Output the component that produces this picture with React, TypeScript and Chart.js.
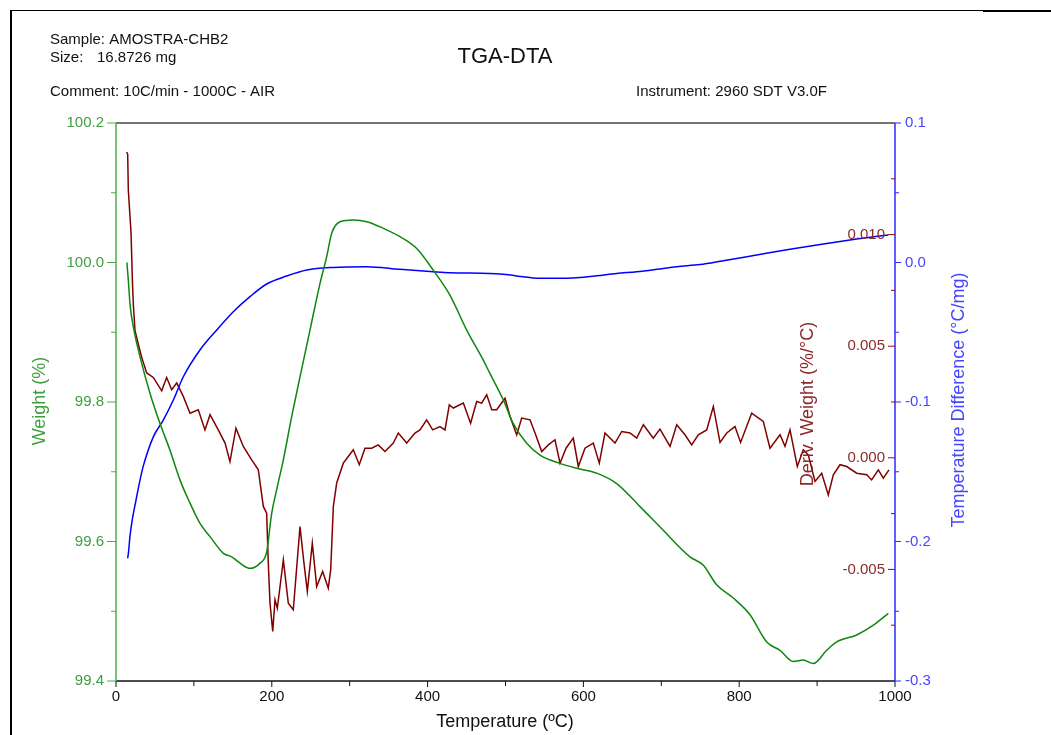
import React, { useEffect, useRef } from "react";
import { Chart, registerables } from "chart.js";

Chart.register(...registerables);

// ---------- data ----------
const weightTemp = [
  14, 15.8, 18, 22.2, 30.8, 43.6, 56.5, 69.3, 82.2, 95, 107.8, 120.7, 137.8, 148.5, 159.2, 172,
  184.9, 193.4, 199.8, 206.2, 214.8, 225.5, 236.2, 249, 261.9, 270.4, 276.9, 287.5, 304.6, 321.8,
  343.2, 364.6, 386, 407.3, 428.8, 450.2, 471.5, 480, 497.2, 510, 527.2, 544.3, 570, 591.4, 617,
  642.7, 672.7, 700, 736.8, 754, 771, 792.4, 813.9, 835.3, 852.4, 869.5, 882.3, 895.1, 912.3,
  925.2, 950.8, 972.2, 991.4,
];
const weightPct = [
  100.0, 99.975, 99.94, 99.908, 99.865, 99.8125, 99.769, 99.731, 99.688, 99.655, 99.626, 99.607,
  99.583, 99.578, 99.569, 99.5615, 99.569, 99.585, 99.64, 99.674, 99.717, 99.779, 99.836, 99.903,
  99.97, 100.008, 100.042, 100.0585, 100.061, 100.0585, 100.049, 100.037, 100.02, 99.989, 99.953,
  99.903, 99.86, 99.841, 99.803, 99.769, 99.741, 99.724, 99.712, 99.705, 99.698, 99.683, 99.65,
  99.619, 99.578, 99.566, 99.538, 99.519, 99.495, 99.456, 99.444, 99.428, 99.43, 99.425, 99.444,
  99.456, 99.466, 99.48, 99.497,
];

const dtaTemp = [
  15, 16, 18, 21, 24.4, 30.8, 35, 47.9, 60.7, 73.6, 86.4, 107.8, 129.3, 150.6, 172, 193.4, 219,
  244.8, 279, 321.8, 364.6, 407.3, 428.8, 480, 497, 523, 540, 565.7, 591.4, 617, 642.7, 668.4, 694,
  719.8, 749.7, 779.6, 822.4, 865.2, 908, 950.8, 991.4,
];
const dtaValue = [
  -0.212, -0.208, -0.196, -0.184, -0.174, -0.156, -0.146, -0.125, -0.113, -0.0986, -0.0819,
  -0.0627, -0.0484, -0.0353, -0.0245, -0.0154, -0.0097, -0.0054, -0.0035, -0.003, -0.0049,
  -0.0066, -0.0073, -0.0078, -0.0085, -0.0102, -0.0113, -0.0113, -0.0109, -0.0095, -0.0078,
  -0.0066, -0.0049, -0.003, -0.0015, 0.0013, 0.0054, 0.0095, 0.0133, 0.0168, 0.0197,
];

const derivTemp = [
  13.7, 15, 15.8, 18, 19.3, 21, 22.2, 24.4, 28.6, 33, 39.4, 47.9, 58.7, 65, 71.5, 77.9, 86.4, 95,
  105.6, 114.2, 120.7, 131.3, 140, 146.3, 154, 163.4, 174.2, 182.7, 189.1, 193.4, 195.5, 197.7,
  201.2, 204.1, 207.1, 214.8, 221.2, 227.6, 236.2, 241.3, 245.6, 252, 257.6, 265.3, 272.5, 275.6,
  279, 283.3, 291.8, 298.2, 304.6, 312.3, 319.6, 328.2, 336.7, 345.3, 356, 362.4, 373.2, 383.8,
  390.2, 398.8, 406.5, 415.9, 422.3, 427.9, 433, 445.9, 455.2, 463, 469.4, 475.9, 482.3, 488.7,
  499.4, 505.8, 514.4, 520.8, 531.5, 537.9, 546.5, 555, 563.5, 570, 577.7, 587, 593.5, 602, 612.7,
  620.4, 627.7, 640.6, 649.2, 659.8, 668.4, 677, 689.7, 698.3, 711.2, 719.8, 730.4, 739, 747.5,
  758.3, 766.8, 775.4, 784, 794.6, 801.8, 816, 830.9, 839.5, 852.4, 858.8, 865.2, 874.6, 882.3,
  888.7, 897.3, 905.9, 914.4, 920.8, 929.4, 938, 950.8, 963.7, 970, 978.6, 985, 992.3,
];
const derivValue = [
  0.0137, 0.0136, 0.012, 0.0108, 0.0101, 0.008, 0.0069, 0.0057, 0.0051, 0.0045, 0.0038, 0.0036,
  0.003, 0.0036, 0.00305, 0.00335, 0.00275, 0.002, 0.00215, 0.00125, 0.00193, 0.00125, 0.00066,
  -0.00017, 0.00133, 0.00051, -0.00009, -0.00054, -0.00218, -0.00248, -0.00472, -0.00651,
  -0.00778, -0.00636, -0.00674, -0.00457, -0.00651, -0.00681, -0.00308, -0.00472, -0.00599,
  -0.00382, -0.00577, -0.00509, -0.00584, -0.00502, -0.00218, -0.00113, -0.00024, 0.00006,
  0.00036, -0.00031, 0.00043, 0.00043, 0.00058, 0.00028, 0.00066, 0.00111, 0.00066, 0.00111,
  0.00125, 0.0017, 0.00125, 0.0014, 0.00125, 0.00237, 0.00223, 0.00245, 0.00155, 0.00252,
  0.00245, 0.00282, 0.00215, 0.00215, 0.00267, 0.00185, 0.00103, 0.00178, 0.0017, 0.00111,
  0.00028, 0.00058, 0.00081, -0.00024, 0.00043, 0.00088, -0.00039, 0.00043, 0.00066, -0.00024,
  0.00111, 0.00066, 0.00118, 0.00111, 0.00088, 0.00148, 0.00088, 0.00129, 0.00051, 0.00148,
  0.00103, 0.00058, 0.00103, 0.00125, 0.0023, 0.00069, 0.00111, 0.0014, 0.00069, 0.002, 0.00163,
  0.00043, 0.00103, 0.00051, 0.00125, -0.00039, 0.00036, 0.00013, -0.00106, -0.00069, -0.00166,
  -0.00076, -0.00031, -0.00039, -0.00069, -0.00076, -0.00099, -0.00054, -0.00091, -0.00054,
];

// ---------- ticks ----------
const xMajorTicks = [0, 200, 400, 600, 800, 1000];
const xMinorTicks = [100, 300, 500, 700, 900];
const weightMajorTicks = [99.4, 99.6, 99.8, 100.0, 100.2];
const weightTickLabels = ["99.4", "99.6", "99.8", "100.0", "100.2"];
const weightMinorTicks = [99.5, 99.7, 99.9, 100.1];
const dtaMajorTicks = [-0.3, -0.2, -0.1, 0.0, 0.1];
const dtaTickLabels = ["-0.3", "-0.2", "-0.1", "0.0", "0.1"];
const dtaMinorTicks = [-0.25, -0.15, -0.05, 0.05];
const derivMajorTicks = [-0.005, 0.0, 0.005, 0.01];
const derivTickLabels = ["-0.005", "0.000", "0.005", "0.010"];
const derivMinorTicks = [-0.0075, -0.0025, 0.0025, 0.0075, 0.0125];

const FONT = "'Liberation Sans', Arial, Helvetica, sans-serif";
const GREEN_CURVE = "#0f870f";
const GREEN_TEXT = "#3f9f3f";
const GREEN_AXIS = "#4caf4c";
const BLUE_CURVE = "#0000ff";
const BLUE_TEXT = "#4646ff";
const BLUE_AXIS = "#2a2aff";
const RED_CURVE = "#800000";
const RED_TEXT = "#8c2a2a";
const RED_TICK = "#8b1010";

export default function App() {
  const ref = useRef<HTMLCanvasElement>(null);

  useEffect(() => {
    const canvas = ref.current;
    if (!canvas) return;
    const pts = (xs: number[], ys: number[]) => xs.map((x, i) => ({ x, y: ys[i] }));

    const text = (
      ctx: CanvasRenderingContext2D,
      s: string,
      x: number,
      y: number,
      size: number,
      color: string,
      align: CanvasTextAlign = "left",
      rotate = 0
    ) => {
      ctx.save();
      ctx.translate(x, y);
      if (rotate) ctx.rotate(rotate);
      ctx.font = `${size}px ${FONT}`;
      ctx.fillStyle = color;
      ctx.textAlign = align;
      ctx.textBaseline = "middle";
      ctx.fillText(s, 0, 0);
      ctx.restore();
    };
    const line = (
      ctx: CanvasRenderingContext2D,
      x1: number,
      y1: number,
      x2: number,
      y2: number,
      color: string,
      w = 1
    ) => {
      ctx.save();
      ctx.strokeStyle = color;
      ctx.lineWidth = w;
      ctx.beginPath();
      ctx.moveTo(x1, y1);
      ctx.lineTo(x2, y2);
      ctx.stroke();
      ctx.restore();
    };

    const decor = {
      id: "decor",
      beforeDraw(chart: any) {
        const ctx: CanvasRenderingContext2D = chart.ctx;
        ctx.save();
        ctx.fillStyle = "#ffffff";
        ctx.fillRect(0, 0, chart.width, chart.height);
        ctx.fillStyle = "#000000";
        ctx.fillRect(10, 10, 2, 725);
        ctx.fillRect(10, 10, 973, 1);
        ctx.fillRect(983, 10, 68, 2);
        ctx.restore();

        // header texts
        text(ctx, "Sample: AMOSTRA-CHB2", 50, 40, 15, "#111");
        text(ctx, "Size:", 50, 58, 15, "#111");
        text(ctx, "16.8726 mg", 97, 58, 15, "#111");
        text(ctx, "Comment: 10C/min - 1000C - AIR", 50, 92, 15, "#111");
        text(ctx, "Instrument: 2960 SDT V3.0F", 636, 92, 15, "#111");
        text(ctx, "TGA-DTA", 505, 57, 22, "#111", "center");
      },
      afterDatasetsDraw(chart: any) {
        const ctx: CanvasRenderingContext2D = chart.ctx;
        const a = chart.chartArea;
        const sx = chart.scales.x;
        const sw = chart.scales.yW;
        const st = chart.scales.yT;
        const sd = chart.scales.yD;

        // frame lines
        line(ctx, a.left, a.top, a.right, a.top, "#444", 1.5);
        line(ctx, a.left, a.bottom, a.right, a.bottom, "#111", 1.5);
        line(ctx, a.left, a.top, a.left, a.bottom, GREEN_AXIS, 1.5);
        line(ctx, a.right, a.top, a.right, a.bottom, BLUE_AXIS, 1.5);

        // x axis
        xMajorTicks.forEach((v) => {
          const px = sx.getPixelForValue(v);
          line(ctx, px, a.bottom, px, a.bottom + 6, "#111", 1);
          text(ctx, String(v), px, a.bottom + 16, 15, "#111", "center");
        });
        xMinorTicks.forEach((v) => {
          const px = sx.getPixelForValue(v);
          line(ctx, px, a.bottom, px, a.bottom + 5, "#111", 1);
        });
        text(ctx, "Temperature (\u00baC)", 505, 722, 18, "#111", "center");

        // weight axis (left)
        weightMajorTicks.forEach((v, i) => {
          const py = sw.getPixelForValue(v);
          line(ctx, a.left - 9, py, a.left, py, GREEN_AXIS, 1);
          text(ctx, weightTickLabels[i], a.left - 12, py, 15, GREEN_TEXT, "right");
        });
        weightMinorTicks.forEach((v) => {
          const py = sw.getPixelForValue(v);
          line(ctx, a.left - 5, py, a.left, py, GREEN_AXIS, 1);
        });
        text(ctx, "Weight (%)", 40, 401, 18, GREEN_TEXT, "center", -Math.PI / 2);

        // temperature difference axis (right, outside)
        dtaMajorTicks.forEach((v, i) => {
          const py = st.getPixelForValue(v);
          line(ctx, a.right, py, a.right + 6, py, BLUE_AXIS, 1);
          text(ctx, dtaTickLabels[i], a.right + 10, py, 15, BLUE_TEXT, "left");
        });
        dtaMinorTicks.forEach((v) => {
          const py = st.getPixelForValue(v);
          line(ctx, a.right, py, a.right + 4, py, BLUE_AXIS, 1);
        });
        text(ctx, "Temperature Difference (\u00b0C/mg)", 959, 400, 18, BLUE_TEXT, "center", -Math.PI / 2);

        // deriv weight axis (right, inside)
        derivMajorTicks.forEach((v, i) => {
          const py = sd.getPixelForValue(v);
          line(ctx, a.right - 7, py, a.right, py, RED_TICK, 1);
          text(ctx, derivTickLabels[i], a.right - 10, py, 15, RED_TEXT, "right");
        });
        derivMinorTicks.forEach((v) => {
          const py = sd.getPixelForValue(v);
          line(ctx, a.right - 4, py, a.right, py, RED_TICK, 1);
        });
        text(ctx, "Deriv. Weight (%/\u00b0C)", 808, 404, 18, RED_TEXT, "center", -Math.PI / 2);
      },
    };

    const chart = new Chart(canvas, {
      type: "line",
      data: {
        datasets: [
          {
            label: "Weight (%)",
            data: pts(weightTemp, weightPct),
            yAxisID: "yW",
            borderColor: GREEN_CURVE,
            borderWidth: 1.5,
            pointRadius: 0,
            cubicInterpolationMode: "monotone",
            fill: false,
          },
          {
            label: "Temperature Difference (°C/mg)",
            data: pts(dtaTemp, dtaValue),
            yAxisID: "yT",
            borderColor: BLUE_CURVE,
            borderWidth: 1.5,
            pointRadius: 0,
            cubicInterpolationMode: "monotone",
            fill: false,
          },
          {
            label: "Deriv. Weight (%/°C)",
            data: pts(derivTemp, derivValue),
            yAxisID: "yD",
            borderColor: RED_CURVE,
            borderWidth: 1.5,
            pointRadius: 0,
            tension: 0,
            fill: false,
          },
        ],
      },
      options: {
        animation: false,
        responsive: false,
        devicePixelRatio: 1,
        events: [],
        layout: { padding: { left: 116, right: 156, top: 123, bottom: 54 } },
        plugins: {
          legend: { display: false },
          tooltip: { enabled: false },
          title: { display: false },
        },
        scales: {
          x: { type: "linear", min: 0, max: 1000, display: false },
          yW: { type: "linear", axis: "y", min: 99.4, max: 100.2, display: false },
          yT: { type: "linear", axis: "y", min: -0.3, max: 0.1, display: false },
          yD: { type: "linear", axis: "y", min: -0.01, max: 0.015, display: false },
        },
      } as any,
      plugins: [decor],
    });
    return () => chart.destroy();
  }, []);

  return (
    <canvas
      ref={ref}
      width={1051}
      height={735}
      style={{ position: "fixed", left: 0, top: 0, width: 1051, height: 735, display: "block" }}
    />
  );
}
